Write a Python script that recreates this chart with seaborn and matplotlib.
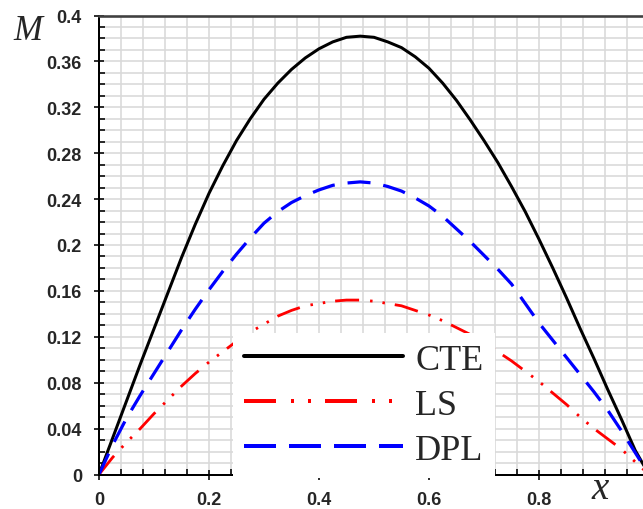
import numpy as np
import pandas as pd
import matplotlib
matplotlib.use("Agg")
import matplotlib.pyplot as plt
from matplotlib.lines import Line2D
from matplotlib.ticker import FixedLocator, MultipleLocator, FormatStrFormatter
import seaborn as sns

# ---- data -------------------------------------------------------------
x_vals = [0.000, 0.025, 0.050, 0.075, 0.100, 0.125, 0.150, 0.175, 0.200, 0.225,
          0.250, 0.275, 0.300, 0.325, 0.350, 0.375, 0.400, 0.425, 0.450, 0.475,
          0.500, 0.525, 0.550, 0.575, 0.600, 0.625, 0.650, 0.675, 0.700, 0.725,
          0.750, 0.775, 0.800, 0.825, 0.850, 0.875, 0.900, 0.925, 0.950, 0.975,
          1.000]
m_cte = [0.000, 0.032, 0.064, 0.096, 0.127, 0.158, 0.189, 0.218, 0.245, 0.269,
         0.291, 0.310, 0.327, 0.341, 0.353, 0.363, 0.371, 0.377, 0.381, 0.382,
         0.381, 0.377, 0.372, 0.364, 0.354, 0.341, 0.326, 0.309, 0.291, 0.272,
         0.251, 0.229, 0.205, 0.180, 0.154, 0.127, 0.101, 0.074, 0.048, 0.021,
         0.000]
m_ls = [0.000, 0.015, 0.028, 0.040, 0.053, 0.065, 0.077, 0.088, 0.098, 0.107,
        0.116, 0.124, 0.131, 0.138, 0.143, 0.147, 0.149, 0.151, 0.152, 0.152,
        0.151, 0.149, 0.147, 0.143, 0.139, 0.134, 0.128, 0.122, 0.115, 0.107,
        0.099, 0.090, 0.081, 0.071, 0.061, 0.050, 0.040, 0.031, 0.022, 0.011,
        0.000]
m_dpl = [0.000, 0.026, 0.049, 0.069, 0.088, 0.107, 0.126, 0.144, 0.161, 0.177,
         0.192, 0.206, 0.219, 0.229, 0.237, 0.243, 0.248, 0.252, 0.254, 0.255,
         0.254, 0.251, 0.247, 0.241, 0.234, 0.225, 0.214, 0.203, 0.191, 0.179,
         0.166, 0.149, 0.132, 0.117, 0.102, 0.087, 0.072, 0.056, 0.038, 0.019,
         0.000]
series_names = ["CTE", "LS", "DPL"]
y_ticks = [0, 0.04, 0.08, 0.12, 0.16, 0.2, 0.24, 0.28, 0.32, 0.36, 0.4]
x_ticks = [0, 0.2, 0.4, 0.6, 0.8]

df = pd.DataFrame({"x": x_vals, "CTE": m_cte, "LS": m_ls, "DPL": m_dpl})

# ---- style ------------------------------------------------------------
sns.set_style("white")
plt.rcParams["font.family"] = ["Liberation Sans", "DejaVu Sans"]
plt.rcParams["lines.scale_dashes"] = False

W, H = 643, 510
fig = plt.figure(figsize=(W / 100, H / 100), dpi=100)
# axes run a little past the right edge of the canvas
x0_px, y0_px, px_per_x, px_per_y = 99, 475.5, 550, 1147.5
ax = fig.add_axes([x0_px / W, (H - y0_px) / H, px_per_x / W, 0.4 * px_per_y / H])

px = 0.72  # points per pixel
styles = {
    "CTE": dict(color="black", lw=3.0 * px, linestyle="-"),
    "LS": dict(color="#ff0000", lw=2.8 * px,
               linestyle=(0, (24 * px, 11 * px, 2.5 * px, 10 * px, 2.5 * px, 10 * px))),
    "DPL": dict(color="#0000ff", lw=3.2 * px, linestyle=(0, (23 * px, 13 * px))),
}
for name in series_names:
    sns.lineplot(data=df, x="x", y=name, ax=ax, legend=False, **styles[name])

ax.set_xlim(0, 1.0)
ax.set_ylim(0, 0.4)
ax.set_xlabel("")
ax.set_ylabel("")

ax.xaxis.set_major_locator(FixedLocator(x_ticks))
ax.xaxis.set_minor_locator(MultipleLocator(0.04))
ax.yaxis.set_major_locator(FixedLocator(y_ticks))
ax.yaxis.set_minor_locator(MultipleLocator(0.01))
ax.xaxis.set_major_formatter(FormatStrFormatter("%g"))
ax.yaxis.set_major_formatter(FormatStrFormatter("%g"))

ax.grid(which="both", color="#d9d9d9", lw=1.6 * px)
ax.set_axisbelow(True)

ax.tick_params(which="major", direction="inout", length=10 * px, width=1.6 * px,
               color="black", labelsize=13, pad=12 * px)
ax.tick_params(which="minor", direction="in", length=6 * px, width=1.6 * px, color="black")
ax.tick_params(axis="x", which="both", bottom=True, top=False)
ax.tick_params(axis="y", which="both", left=True, right=False)
for lab in ax.get_xticklabels() + ax.get_yticklabels():
    lab.set_fontweight("bold")

for side in ["left", "bottom"]:
    ax.spines[side].set_color("black")
    ax.spines[side].set_linewidth(2.0 * px)
ax.spines["top"].set_color("#404040")
ax.spines["top"].set_linewidth(2.6 * px)
ax.spines["right"].set_visible(False)

# legend with proxy handles
handles = [
    Line2D([], [], color="black", lw=4 * px, linestyle="-"),
    Line2D([], [], color="#ff0000", lw=4 * px,
           linestyle=(0, (32 * px, 15 * px, 3 * px, 14 * px, 3 * px, 14 * px))),
    Line2D([], [], color="#0000ff", lw=4 * px, linestyle=(0, (32 * px, 13 * px))),
]
leg = ax.legend(handles, series_names, loc="upper left",
                bbox_to_anchor=(233 / W, (H - 334) / H), bbox_transform=fig.transFigure,
                prop={"family": "Liberation Serif", "size": 26},
                frameon=True, fancybox=False, framealpha=1.0, facecolor="white",
                edgecolor="none", borderpad=0.3, borderaxespad=0,
                handlelength=4.4, handletextpad=0.35, labelspacing=0.32)

# axis titles
fig.text(28 / W, 1 - 31 / H, "M", ha="center", va="center",
         family="Liberation Serif", style="italic", fontsize=25)
fig.text(600 / W, 1.5 / H, "x", ha="center", va="bottom",
         family="Liberation Serif", style="italic", fontsize=28)

fig.savefig("out.png", dpi=100)
